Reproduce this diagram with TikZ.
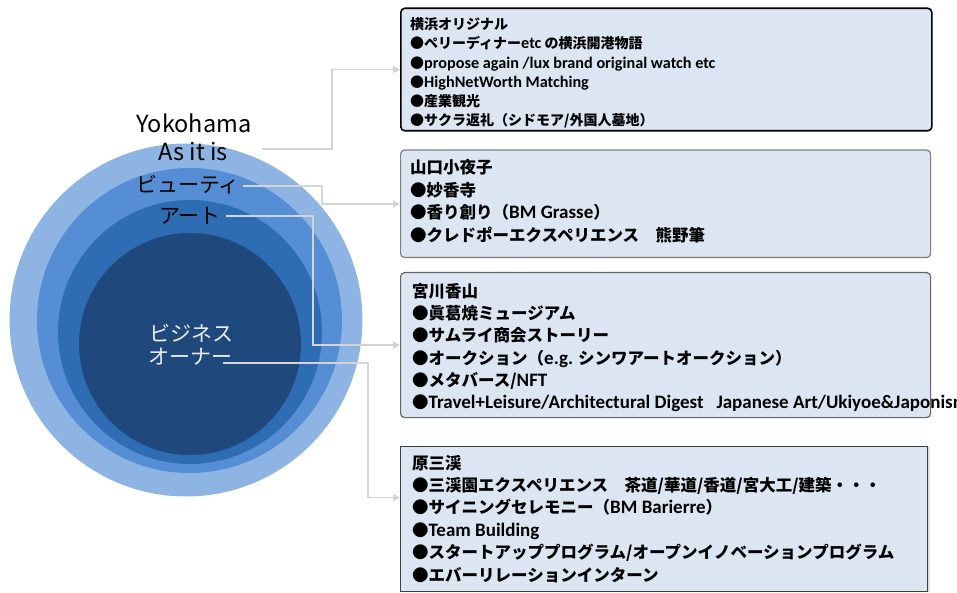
\documentclass[tikz,border=0pt]{standalone}
\usepackage{fontspec}
\setmainfont{Noto Sans CJK JP}
\newfontfamily\lat{Carlito}
\newcommand\latA[1]{{\lat\fontsize{16.2}{18}\selectfont #1}}
\newcommand\latB[1]{{\lat\fontsize{19}{21}\selectfont #1}}
\usetikzlibrary{shadows,arrows.meta}
\definecolor{ringA}{HTML}{8DB4E2}
\definecolor{ringB}{HTML}{558ED5}
\definecolor{ringC}{HTML}{2E6CB4}
\definecolor{ringD}{HTML}{1F497D}
\definecolor{boxfill}{HTML}{DCE6F2}
\definecolor{conncol}{HTML}{D4D4D4}
\definecolor{boxgray}{HTML}{7F7F7F}
\tikzset{
  ring/.style={circle, inner sep=0pt, draw=none},
  conn/.style={draw=conncol, line width=1.5pt, -{Triangle[length=7pt,width=7pt]}},
  panel/.style={anchor=north west, inner sep=0pt, fill=boxfill},
  ltx/.style={anchor=base west, inner sep=0pt},
  fA/.style={font=\fontsize{14}{16}\selectfont\bfseries},
  fB/.style={font=\fontsize{16.5}{19}\selectfont\bfseries},
  lab/.style={inner sep=1pt, font=\fontsize{21}{24}\selectfont},
  labbig/.style={inner sep=1pt, font=\fontsize{23.5}{26}\selectfont},
}
\begin{document}
\begin{tikzpicture}[x=1pt,y=-1pt]
\useasboundingbox (0,0) rectangle (957,593);
% rings
\node[ring, fill=ringA, minimum size=353pt] (r1) at (186,320) {};
\node[ring, fill=ringB, minimum size=305pt] (r2) at (189.5,320.5) {};
\node[ring, fill=ringC, minimum size=264pt] (r3) at (190,332) {};
\node[ring, fill=ringD, minimum size=222pt] (r4) at (190,344) {};
% labels
\node[labbig] (yk) at (194,123) {Yokohama};
\node[labbig] (asit) at (193,152) {As it is};
\node[lab] (beauty) at (188,185) {ビューティ};
\node[lab] (art) at (190,216) {アート};
\node[lab, text=white!93!black] (biz1) at (191,333) {ビジネス};
\node[lab, text=white!93!black] (biz2) at (190,357) {オーナー};
% panels
\node[panel, draw=black, line width=1.6pt, rounded corners=4pt, minimum width=531pt, minimum height=122.5pt] (b1) at (400,7.5) {};
\node[panel, draw=boxgray, line width=1.2pt, rounded corners=4pt, minimum width=530pt, minimum height=107.5pt] (b2) at (400,149.5) {};
\node[panel, draw=boxgray!80!black, line width=1.2pt, rounded corners=4pt, minimum width=530pt, minimum height=145pt] (b3) at (400,272) {};
\node[panel, draw=black!75, line width=1.2pt, minimum width=527pt, minimum height=145pt,
      drop shadow={shadow xshift=2.5pt, shadow yshift=0pt, opacity=0.25, fill=gray}] (b4) at (400,446) {};
% connector start points
\coordinate (s1) at (262,149);
\coordinate (s2) at (243,186);
\coordinate (s3) at (226,216);
\coordinate (s4) at (223,363);
\draw[conn] (s1) -| ([xshift=-68pt]b1.west) -- (b1.west);
\draw[conn] (s2) -| ([xshift=-78pt]b2.west) -- (b2.west);
\draw[conn] (s3) -| ([xshift=-87pt]b3.west) -- (b3.west);
\draw[conn] (s4) -| ([xshift=-32pt,yshift=21.5pt]b4.west) -- ([yshift=21.5pt]b4.west);
% box 1
\node[ltx, fA] (t1a) at (410,29.5) {横浜オリジナル};
\node[ltx, fA] (t1b) at (410,48.8) {●ペリーディナー\latA{etc} の横浜開港物語};
\node[ltx, fA] (t1c) at (410,68.1) {●\latA{propose again /lux brand original watch etc}};
\node[ltx, fA] (t1d) at (410,87.4) {●\latA{HighNetWorth Matching}};
\node[ltx, fA] (t1e) at (410,106.7) {●産業観光};
\node[ltx, fA] (t1f) at (410,126) {●サクラ返礼（シドモア/外国人墓地）};
% box 2
\node[ltx, fB] (t2a) at (410,174) {山口小夜子};
\node[ltx, fB] (t2b) at (410,196.5) {●妙香寺};
\node[ltx, fB] (t2c) at (410,219) {●香り創り（\latB{BM Grasse}）};
\node[ltx, fB] (t2d) at (410,241.5) {●クレドポーエクスペリエンス　熊野筆};
% box 3
\node[ltx, fB] (t3a) at (412,297.5) {宮川香山};
\node[ltx, fB] (t3b) at (412,319.7) {●眞葛焼ミュージアム};
\node[ltx, fB] (t3c) at (412,341.9) {●サムライ商会ストーリー};
\node[ltx, fB] (t3d) at (412,364.1) {●オークション（\latB{e.g.} シンワアートオークション）};
\node[ltx, fB] (t3e) at (412,386.3) {●メタバース/\latB{NFT}};
\node[ltx, fB] (t3f) at (412,408.5) {●\latB{Travel+Leisure/Architectural Digest\ \ \ Japanese Art/Ukiyoe\&Japonism}};
% box 4
\node[ltx, fB] (t4a) at (412,469) {原三渓};
\node[ltx, fB] (t4b) at (412,491.4) {●三渓園エクスペリエンス　茶道/華道/香道/宮大工/建築・・・};
\node[ltx, fB] (t4c) at (412,513.8) {●サイニングセレモニー（\latB{BM Barierre}）};
\node[ltx, fB] (t4d) at (412,536.2) {●\latB{Team Building}};
\node[ltx, fB] (t4e) at (412,558.6) {●スタートアッププログラム/オープンイノベーションプログラム};
\node[ltx, fB] (t4f) at (412,581) {●エバーリレーションインターン};
\end{tikzpicture}
\end{document}
